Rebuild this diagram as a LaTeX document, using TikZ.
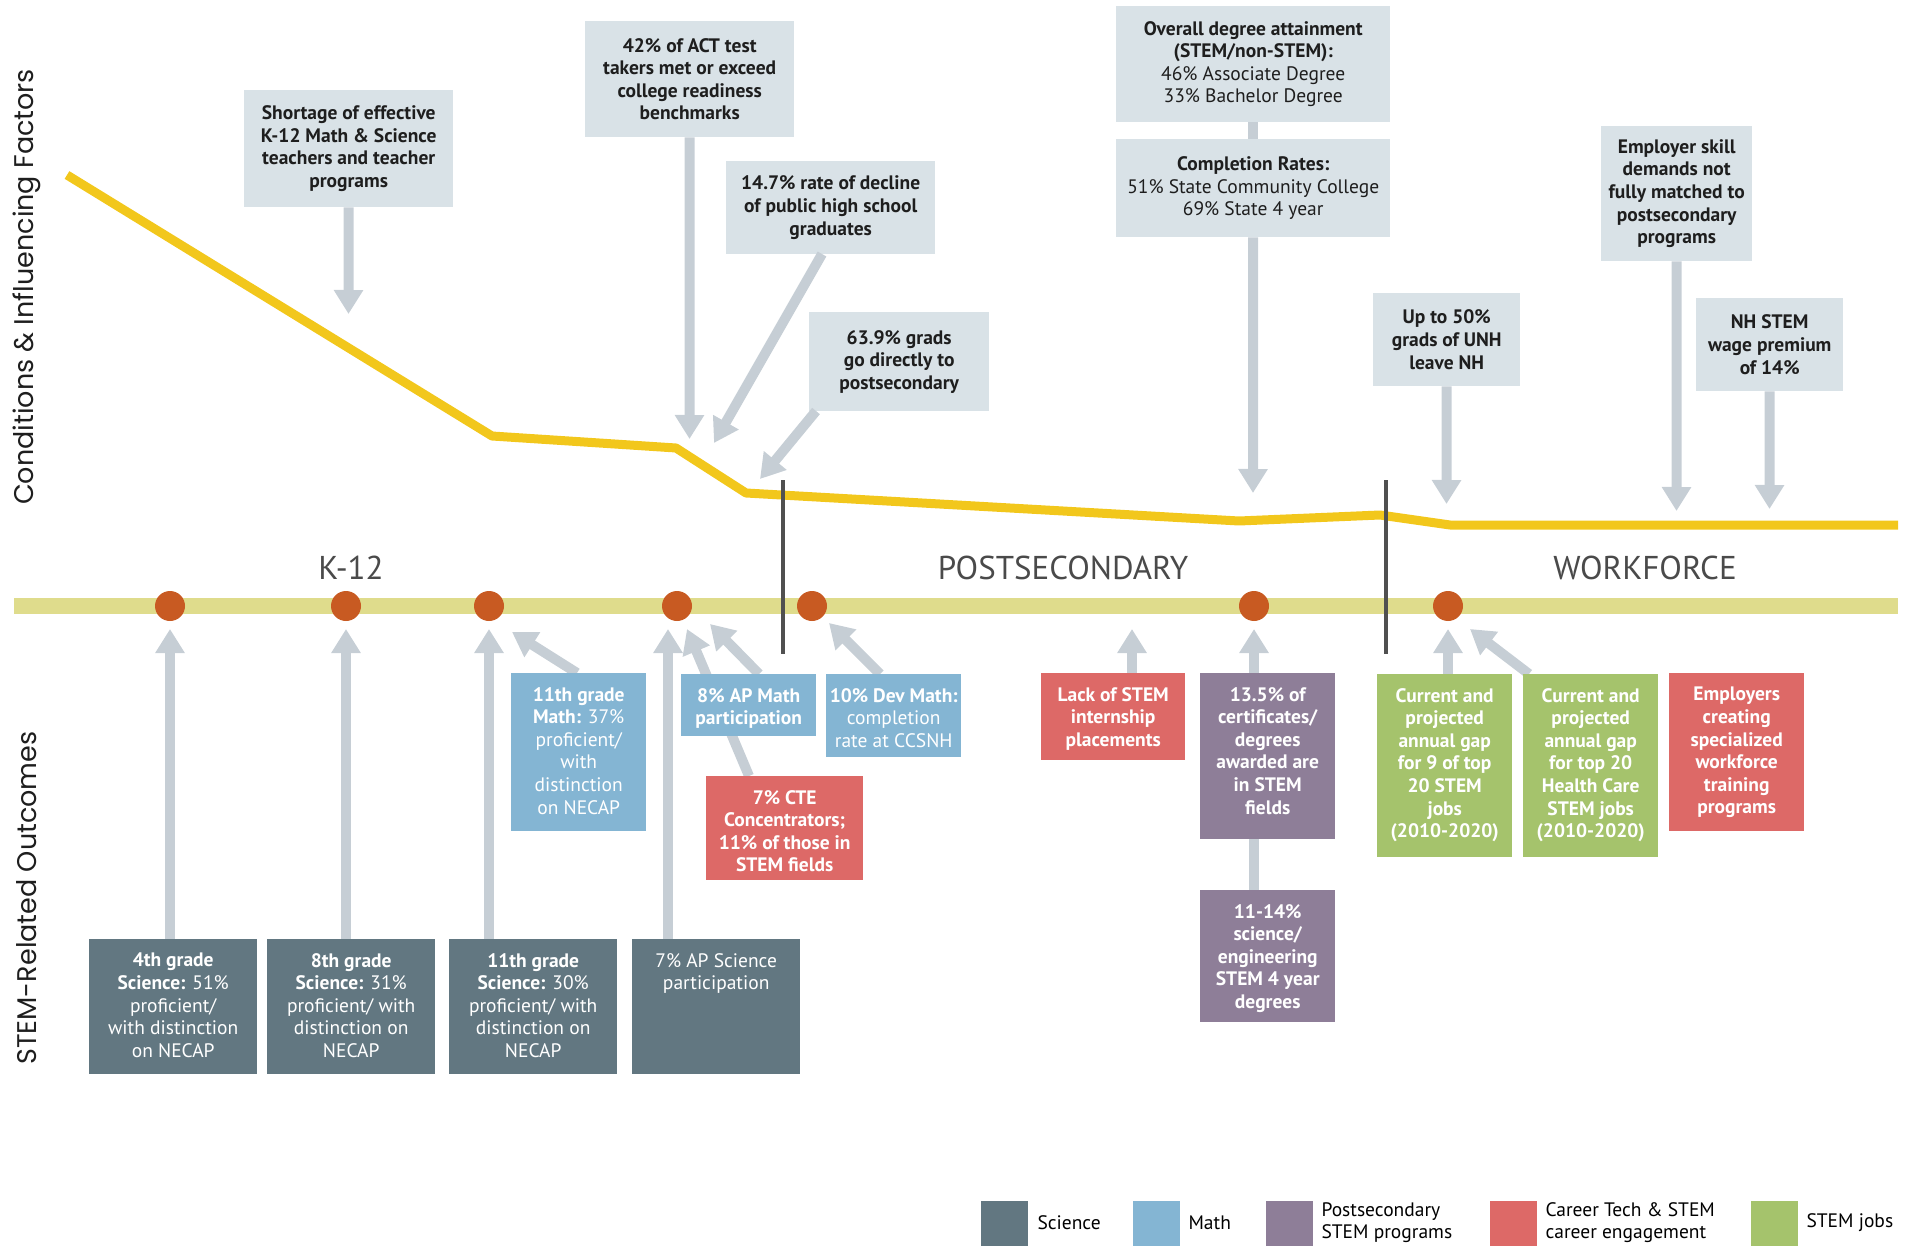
\documentclass[tikz,border=0pt]{standalone}
\usepackage{fontspec}
\setmainfont{PT Sans}
\newfontfamily\axisfont{Poppins}
\usetikzlibrary{arrows.meta}
\definecolor{topfill}{HTML}{D9E2E7}
\definecolor{arrowgray}{HTML}{C6CED5}
\definecolor{gold}{HTML}{F2C71C}
\definecolor{band}{HTML}{DFDC8C}
\definecolor{dotc}{HTML}{C85A22}
\definecolor{divc}{HTML}{505050}
\definecolor{sci}{HTML}{627781}
\definecolor{math}{HTML}{84B5D3}
\definecolor{purp}{HTML}{8E7E98}
\definecolor{redc}{HTML}{DD6967}
\definecolor{greenc}{HTML}{A5C36C}
\definecolor{txtdark}{HTML}{1E1E1E}
\definecolor{lblgray}{HTML}{4A4A4A}
\newcommand\padt{14pt}
\newcommand\padc{0pt}
\newcommand\B[1]{\textbf{#1}}
\newcommand\bx[8]{\node[#2, anchor=north west, inner sep=0pt] (#1) at (#3,#4) {\parbox[c][\dimexpr #6pt-#4pt\relax][#7]{\dimexpr #5pt-#3pt\relax}{\vspace*{\csname pad#7\endcsname}\centering #8\par}};}
\tikzset{
  boxfont/.style={font=\fontsize{19.5}{22.6}\selectfont},
  topbox/.style={boxfont, fill=topfill, text=txtdark},
  scibox/.style={boxfont, fill=sci, text=white},
  mathbox/.style={boxfont, fill=math, text=white},
  purpbox/.style={boxfont, fill=purp, text=white},
  redbox/.style={boxfont, fill=redc, text=white},
  greenbox/.style={boxfont, fill=greenc, text=white},
  garrow/.style={draw=arrowgray, line width=10pt, -{Triangle[width=28pt,length=24pt]}},
  gline/.style={draw=arrowgray, line width=10pt},
  dotn/.style={circle, fill=dotc, minimum size=30pt, inner sep=0pt},
  seclbl/.style={text=lblgray, font=\fontsize{33}{35}\selectfont},
  axislbl/.style={rotate=90, text=txtdark, font=\axisfont\fontsize{27}{30}\selectfont},
  legsq/.style={fill=#1, minimum width=47pt, minimum height=45pt, inner sep=0pt, anchor=north west},
  legtxt/.style={anchor=west, align=left, text=black, font=\fontsize{19.5}{22}\selectfont},
}
\begin{document}
\begin{tikzpicture}[x=1pt,y=-1pt]
\useasboundingbox (0,0) rectangle (1916,1246);
% yellow trend curve
\draw[gold, line width=9pt, line join=round] (67,175) -- (492,436) -- (676,448) -- (746,493) -- (1239,521) -- (1380,515) -- (1450,525) -- (1898,525);
% timeline band
\draw[band, line width=16pt] (14,606) -- (1898,606);
% dividers
\draw[divc, line width=3.5pt] (783,480) -- (783,654);
\draw[divc, line width=3.5pt] (1386,480) -- (1386,654);
% dots
\foreach \n/\x in {d1/170,d2/346,d3/489,d4/677,d5/812,d6/1254,d7/1448}
  \node[dotn] (\n) at (\x,606) {};
% section labels
\node[seclbl] (k12) at (351,568) {K-12};
\node[seclbl] (post) at (1063,568) {POSTSECONDARY};
\node[seclbl] (work) at (1645,568) {WORKFORCE};
% axis labels
\node[axislbl] (ax1) at (27,287) {Conditions \& Influencing Factors};
\node[axislbl] (ax2) at (27,898) {STEM-Related Outcomes};

% ---------- top boxes ----------
\bx{t1}{topbox}{244}{90}{453}{207}{c}{\B{Shortage of effective\\K-12 Math \& Science\\teachers and teacher\\programs}}
\bx{t2}{topbox}{585}{21}{794}{137}{c}{\B{42\% of ACT test\\takers met or exceed\\college readiness\\benchmarks}}
\bx{t3}{topbox}{726}{161}{935}{254}{c}{\B{14.7\% rate of decline\\of public high school\\graduates}}
\bx{t4}{topbox}{809}{312}{989}{411}{c}{\B{63.9\% grads\\go directly to\\postsecondary}}
\bx{t5}{topbox}{1116}{6}{1390}{122}{c}{\B{Overall degree attainment\\(STEM/non-STEM):}\\46\% Associate Degree\\33\% Bachelor Degree}
\bx{t6}{topbox}{1116}{139}{1390}{237}{c}{\B{Completion Rates:}\\51\% State Community College\\69\% State 4 year}
\bx{t7}{topbox}{1373}{293}{1520}{386}{c}{\B{Up to 50\%\\grads of UNH\\leave NH}}
\bx{t8}{topbox}{1601}{126}{1752}{261}{c}{\B{Employer skill\\demands not\\fully matched to\\postsecondary\\programs}}
\bx{t9}{topbox}{1696}{298}{1843}{391}{c}{\B{NH STEM\\wage premium\\of 14\%}}

% top arrows
\coordinate (a1) at (348.5,314);
\coordinate (a2) at (689.5,439);
\coordinate (a3s) at (822,254);
\coordinate (a3) at (714,443);
\coordinate (a4s) at (816,411);
\coordinate (a4) at (760,479);
\coordinate (a6) at (1253,493);
\coordinate (a7) at (1446.5,504);
\coordinate (a8) at (1676.5,511);
\coordinate (a9) at (1769.5,509);
\draw[garrow] (t1.south) -- (a1);
\draw[garrow] (t2.south) -- (a2);
\draw[garrow] (a3s) -- (a3);
\draw[garrow] (a4s) -- (a4);
\draw[gline] (t5.south) -- (t6.north);
\draw[garrow] (t6.south) -- (a6);
\draw[garrow] (t7.south) -- (a7);
\draw[garrow] (t8.south) -- (a8);
\draw[garrow] (t9.south) -- (a9);

% ---------- bottom arrows (behind boxes) ----------
\coordinate (s1) at (170,939);  \coordinate (e1) at (170,629);
\coordinate (s2) at (346,939);  \coordinate (e2) at (346,629);
\coordinate (s3) at (489,939);  \coordinate (e3) at (489,629);
\coordinate (s4) at (668,939);  \coordinate (e4) at (668,629);
\coordinate (sm1) at (577,673); \coordinate (em1) at (512,632);
\coordinate (sm2) at (759,674); \coordinate (em2) at (710,624);
\coordinate (sm3) at (880,674); \coordinate (em3) at (829,623);
\coordinate (sc1) at (749,776); \coordinate (ec1) at (687,629);
\coordinate (sc2) at (1132,673); \coordinate (ec2) at (1132,629);
\coordinate (sp1) at (1254,673); \coordinate (ep1) at (1254,629);
\coordinate (sj1) at (1448,674); \coordinate (ej1) at (1448,629);
\coordinate (sj2) at (1529,674); \coordinate (ej2) at (1470,629);
\draw[garrow] (s1) -- (e1);
\draw[garrow] (s2) -- (e2);
\draw[garrow] (s3) -- (e3);
\draw[garrow] (s4) -- (e4);
\draw[garrow] (sm1) -- (em1);
\draw[garrow] (sm2) -- (em2);
\draw[garrow] (sm3) -- (em3);
\draw[garrow] (sc1) -- (ec1);
\draw[garrow] (sc2) -- (ec2);
\draw[garrow] (sp1) -- (ep1);
\draw[garrow] (sj1) -- (ej1);
\draw[garrow] (sj2) -- (ej2);
\draw[gline] (1254,839) -- (1254,890);

% ---------- bottom boxes ----------
\bx{b1}{scibox}{89}{939}{257}{1074}{t}{\B{4th grade}\\\B{Science:} 51\%\\proficient/\\with distinction\\on NECAP}
\bx{b2}{scibox}{267}{939}{435}{1074}{t}{\B{8th grade}\\\B{Science:} 31\%\\proficient/ with\\distinction on\\NECAP}
\bx{b3}{scibox}{449}{939}{617}{1074}{t}{\B{11th grade}\\\B{Science:} 30\%\\proficient/ with\\distinction on\\NECAP}
\bx{b4}{scibox}{632}{939}{800}{1074}{t}{7\% AP Science\\participation}
\bx{m1}{mathbox}{511}{673}{646}{831}{t}{\B{11th grade}\\\B{Math:} 37\%\\proficient/\\with\\distinction\\on NECAP}
\bx{m2}{mathbox}{681}{674}{816}{736}{t}{\B{8\% AP Math}\\\B{participation}}
\bx{m3}{mathbox}{826}{674}{961}{757}{t}{\B{10\% Dev Math:}\\completion\\rate at CCSNH}
\bx{c1}{redbox}{706}{776}{863}{880}{t}{\B{7\% CTE\\Concentrators;\\11\% of those in\\STEM fields}}
\bx{c2}{redbox}{1041}{673}{1185}{760}{t}{\B{Lack of STEM\\internship\\placements}}
\bx{p1}{purpbox}{1200}{673}{1335}{839}{t}{\B{13.5\% of\\certificates/\\degrees\\awarded are\\in STEM\\fields}}
\bx{p2}{purpbox}{1200}{890}{1335}{1022}{t}{\B{11-14\%\\science/\\engineering\\STEM 4 year\\degrees}}
\bx{j1}{greenbox}{1377}{674}{1512}{857}{t}{\B{Current and\\projected\\annual gap\\for 9 of top\\20 STEM\\jobs\\(2010-2020)}}
\bx{j2}{greenbox}{1523}{674}{1658}{857}{t}{\B{Current and\\projected\\annual gap\\for top 20\\Health Care\\STEM jobs\\(2010-2020)}}
\bx{c3}{redbox}{1669}{673}{1804}{831}{t}{\B{Employers\\creating\\specialized\\workforce\\training\\programs}}

% ---------- legend ----------
\node[legsq=sci] (l1) at (981,1201) {};
\node[legtxt] (lt1) at (1034,1223) {Science};
\node[legsq=math] (l2) at (1133,1201) {};
\node[legtxt] (lt2) at (1185,1223) {Math};
\node[legsq=purp] (l3) at (1266,1201) {};
\node[legtxt] (lt3) at (1318,1223) {Postsecondary\\STEM programs};
\node[legsq=redc] (l4) at (1490,1201) {};
\node[legtxt] (lt4) at (1542,1223) {Career Tech \& STEM\\career engagement};
\node[legsq=greenc] (l5) at (1751,1201) {};
\node[legtxt] (lt5) at (1803,1223) {STEM jobs};
\end{tikzpicture}
\end{document}
